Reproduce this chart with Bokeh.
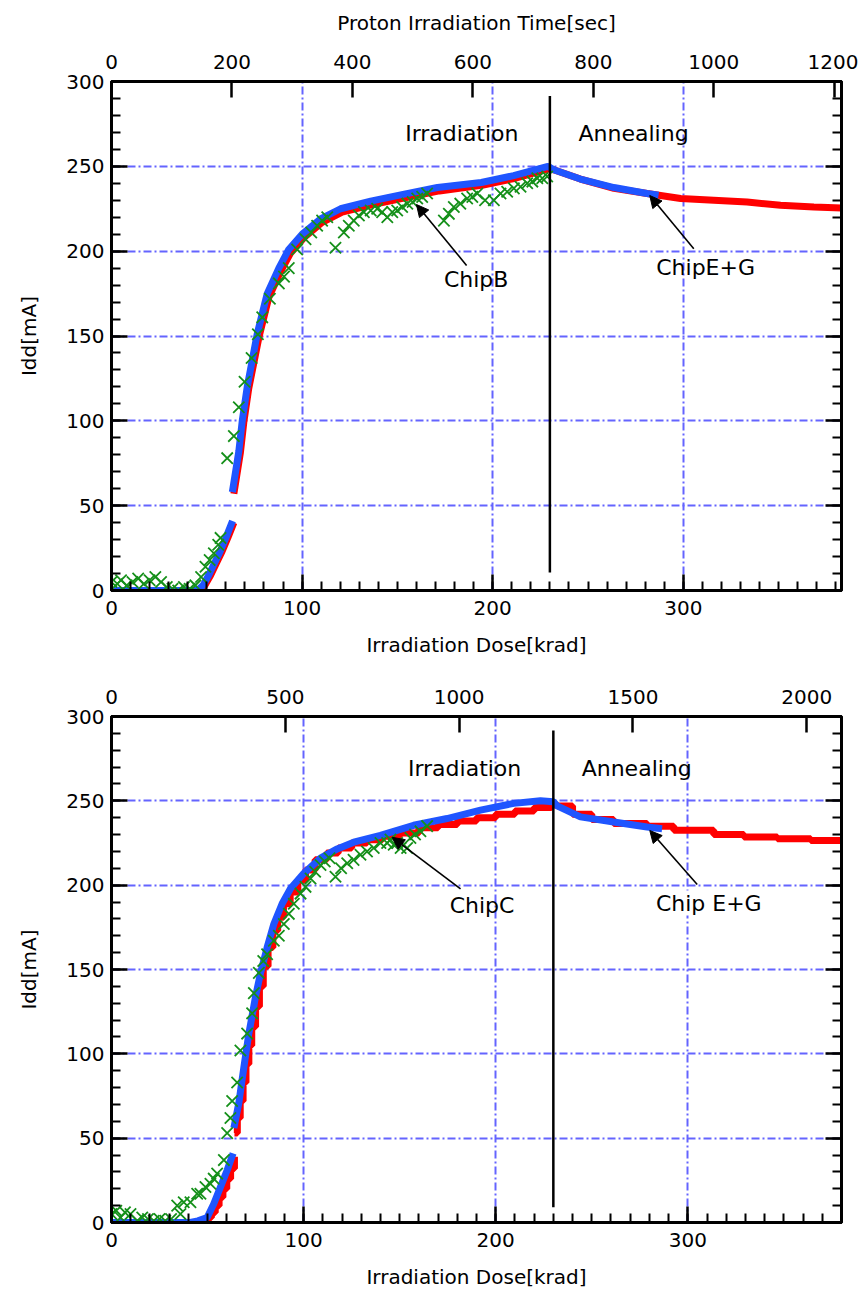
import math
from bokeh.plotting import figure
from bokeh.models import (LinearAxis, Range1d, FixedTicker, Arrow, NormalHead,
                          Label, Grid, CustomLabelingPolicy)
from bokeh.layouts import column
from bokeh.embed import file_html
from bokeh.resources import INLINE

nan = float("nan")

# ---------------- upper panel: ChipB (green) vs ChipE+G (red / blue) ----------------
top_blue_dose = [0, 45, 48, 51, 54, 57, 60, 63.5, nan,
                 63.4, 66.8, 68.6, 71.2, 76.4, 81.7, 87.8, 93.0, 100.0, 109.7,
                 120.2, 136, 153, 171, 194, 211, 229, 232, 246, 263.6, 281, 287]
top_blue_idd = [0, 0, 3, 9, 16, 23, 31, 41, nan,
                58, 82, 100, 120, 151, 175, 190, 201, 210, 219,
                225, 229.5, 233.5, 237.5, 240.5, 244.5, 250, 248, 242.5, 237.5, 234, 233]

top_red_dose = [0, 46, 49, 52, 55, 58, 61, 64.2, nan,
                64.2, 67.6, 69.4, 72.0, 77.3, 82.6, 88.7, 94, 101, 110.5,
                121, 137, 154, 172, 195, 212, 229.5, 232, 246, 263.6,
                281, 298.6, 316, 333.5, 351, 368.5, 383]
top_red_idd = [0, 0, 3, 9, 16, 23, 31, 40, nan,
               57, 81, 99, 119, 149, 173, 188, 199, 208, 217,
               223, 227.5, 231.5, 235.5, 239, 243, 248.5, 248, 242.5, 237,
               234, 231, 230, 229, 227, 226, 225.5]

top_green_dose = [0, 3, 5, 8, 11, 14, 17, 20, 23, 26, 29, 32, 35, 38, 41, 44, 47,
                  49.3, 51.5, 53.7, 56, 57.2, 60.7, 64.2, 66.8, 69.8, 73.5, 76.8,
                  79.1, 83.1, 87.8, 90.5, 93, 97.4, 101.8, 104.8, 107.9, 110.5,
                  113.2, 117.5, 121.9, 124.5, 127.1, 129.8, 132.4, 136, 139.4, 142,
                  144.7, 147.3, 149.9, 152.5, 155.2, 158, 160.4, 163, 165.6, 174.4,
                  177, 179.6, 183, 186.6, 189.3, 191.9, 196, 200.6, 204.1, 207.6,
                  211.1, 214.6, 218.1, 220.8, 223.4, 226, 228.6]
top_green_idd = [5, 4, 6, 3, 5, 7, 4, 6, 8, 5, 2, 1, 0, 2, 1, 3, 8,
                 14, 18, 22, 27, 31, 78, 91, 108, 123, 137, 151,
                 161, 172, 181, 185, 190, 201, 207, 211, 215, 218,
                 220, 202, 211, 215, 218, 221, 223, 224, 225, 223,
                 220, 223, 224, 226, 228, 229, 231, 232, 234, 218,
                 222, 226, 228, 231, 232, 234, 230, 230, 234, 235,
                 237, 238, 240, 241, 243, 243, 244]

# ---------------- lower panel: ChipC (green) vs Chip E+G (red / blue) ----------------
bot_blue_dose = [0, 41, 45, 49.8, 53.2, 56.7, 60.2, 63.3, nan,
                 63.7, 66.3, 68.9, 71.5, 75, 77.6, 81, 84.5, 88.8, 93.2,
                 100.1, 108.8, 117.5, 126.1, 140, 157.3, 174.7, 192.1, 209.4, 223.3,
                 230, 232, 244.1, 261.4, 278.8, 286.6]
bot_blue_idd = [0, 0, 1, 3, 11, 21, 31, 41, nan,
                56, 71, 92, 112, 134, 148, 163, 177, 189, 198,
                207, 216, 221.5, 225.5, 229.5, 235.5, 239.5, 244.5, 248.5, 250,
                249.5, 247, 240.5, 237.5, 234.5, 233.5]

bot_red_dose = [0, 44, 47, 50, 52, 54, 56, 58, 60, 62, 64, nan,
                64, 65.5, 67, 68.5, 70, 71.5, 73, 75, 77, 79,
                81.5, 84, 86.5, 89.5, 93, 97, 101, 106, 112, 118,
                125, 133, 141, 150, 160, 170, 180, 190, 200, 210,
                220, 229, 232, 240, 250, 261.4, 278.8, 292.7, 313.5, 329.2,
                346.6, 364, 380]
bot_red_idd = [0, 0, 1, 3, 6, 10, 15, 20, 26, 32, 39, nan,
               53, 62, 72, 83, 94, 105, 116, 128, 140, 152,
               163, 173, 181, 189, 196, 203, 209, 215, 219, 222,
               225, 227, 229, 231, 234, 236, 238, 240, 242, 244,
               246, 247.5, 247, 242, 239, 236.5, 235, 232.5, 230, 228.5,
               227.5, 226.5, 226.5]

bot_green_dose = [0, 2.5, 4.7, 7, 9.9, 13.4, 16, 19, 22, 25, 28, 31, 34.2, 35.9, 37.6,
                  41.1, 44.6, 46.3, 48.9, 51.5, 53.2, 55, 58.5, 60.2, 61.9, 62.8, 65.4,
                  67.1, 70.6, 73.2, 74.1, 76.7, 79, 81, 84.5, 87.1, 89.7, 92.3, 94.9,
                  98.4, 101, 103.6, 106, 108.8, 111, 113.5, 116.6, 119.5, 122.7, 126,
                  129.6, 133, 136.5, 140, 143.5, 145.2, 146.9, 148.7, 150.5, 153.9,
                  155.6, 158, 160.8, 164.3]
bot_green_idd = [5, 7, 3, 6, 5, 1, 3, 2, 1, 2, 1, 2, 10, 5, 12,
                 12, 17, 17, 21, 23, 26, 29, 37, 53, 62, 72, 83,
                 102, 112, 124, 136, 148, 155, 159, 167, 170, 177, 183, 189,
                 195, 199, 204, 208, 212, 214, 216, 205, 210, 213, 215,
                 218, 220, 222, 225, 225, 227, 224, 225, 222, 222,
                 228, 230, 232, 235]

# ---------------- axes ----------------
dose_ticks = [0, 100, 200, 300]
dose_minor = list(range(0, 390, 10))
idd_ticks = [0, 50, 100, 150, 200, 250, 300]
idd_minor = list(range(0, 301, 10))
time_ticks_top = [0, 200, 400, 600, 800, 1000, 1200]
time_ticks_bot = [0, 500, 1000, 1500, 2000]

FONT = "DejaVu Sans"
RED = "#ff0000"
BLUE = "#1f55ff"
GREEN = "#15901a"
GRIDC = "#6464ff"


def split_nan(xs, ys):
    parts, cx, cy = [], [], []
    for x, y in zip(xs, ys):
        if math.isnan(x):
            parts.append((cx, cy))
            cx, cy = [], []
        else:
            cx.append(x)
            cy.append(y)
    parts.append((cx, cy))
    return parts


def style_axis(ax, minor=True):
    ax.axis_line_width = 3
    ax.axis_line_color = "black"
    ax.major_tick_in = 16
    ax.major_tick_out = 0
    ax.major_tick_line_width = 2.5
    ax.major_tick_line_color = "black"
    if minor:
        ax.minor_tick_in = 9
        ax.minor_tick_out = 0
        ax.minor_tick_line_width = 2
        ax.minor_tick_line_color = "black"
    else:
        ax.minor_tick_line_color = None
    ax.major_label_text_font = FONT
    ax.major_label_text_font_size = "20px"
    ax.major_label_text_color = "black"
    ax.axis_label_text_font = FONT
    ax.axis_label_text_font_size = "20px"
    ax.axis_label_text_font_style = "normal"
    ax.axis_label_text_color = "black"


def panel(frame_h, top_border, bottom_border, xmax, tmax, time_ticks, time_label,
          red_x, red_y, red_step, blue_x, blue_y, green_x, green_y,
          labels, arrows, vline):
    p = figure(frame_width=730, frame_height=frame_h,
               x_range=Range1d(0, xmax), y_range=Range1d(0, 300),
               x_axis_type=None, y_axis_type=None, output_backend="svg",
               toolbar_location=None, min_border_left=111, min_border_right=17,
               min_border_top=top_border, min_border_bottom=bottom_border)
    p.outline_line_color = "black"
    p.outline_line_width = 3
    p.background_fill_color = "white"
    p.border_fill_color = "white"
    p.extra_x_ranges = {"time": Range1d(0, tmax)}

    xt = FixedTicker(ticks=dose_ticks, minor_ticks=dose_minor)
    yt = FixedTicker(ticks=idd_ticks, minor_ticks=idd_minor)

    bottom = LinearAxis(ticker=xt, axis_label="Irradiation Dose[krad]")
    style_axis(bottom)
    bottom.major_label_standoff = 10
    bottom.axis_label_standoff = 15
    p.add_layout(bottom, "below")

    left = LinearAxis(ticker=yt, axis_label="Idd[mA]")
    style_axis(left)
    left.major_label_standoff = 7
    left.axis_label_standoff = 22
    p.add_layout(left, "left")

    right = LinearAxis(ticker=yt,
                       major_label_overrides={t: "" for t in idd_ticks},
                       major_label_policy=CustomLabelingPolicy(code="return []"))
    style_axis(right)
    right.major_label_standoff = 0
    right.major_label_text_font_size = "1px"
    p.add_layout(right, "right")

    top = LinearAxis(x_range_name="time", ticker=FixedTicker(ticks=time_ticks, minor_ticks=[]))
    if time_label:
        top.axis_label = time_label
    style_axis(top, minor=False)
    top.major_label_standoff = 13
    top.axis_label_standoff = 17
    p.add_layout(top, "above")

    p.add_layout(Grid(dimension=0, ticker=FixedTicker(ticks=[100, 200, 300]),
                      grid_line_color=GRIDC, grid_line_width=2, grid_line_dash="8 3 2 3"))
    p.add_layout(Grid(dimension=1, ticker=FixedTicker(ticks=[50, 100, 150, 200, 250]),
                      grid_line_color=GRIDC, grid_line_width=2, grid_line_dash="8 3 2 3"))

    for sx, sy in split_nan(red_x, red_y):
        if red_step:
            p.step(sx, sy, mode="after", line_color=RED, line_width=7)
        else:
            p.line(sx, sy, line_color=RED, line_width=7)
    for sx, sy in split_nan(blue_x, blue_y):
        p.line(sx, sy, line_color=BLUE, line_width=7)
    p.scatter(green_x, green_y, marker="x", size=16, line_color=GREEN, line_width=1.8)

    p.segment(x0=[vline[0]], y0=[vline[1]], x1=[vline[0]], y1=[vline[2]],
              line_color="black", line_width=2.5)

    for (xs, ys, xe, ye) in arrows:
        p.add_layout(Arrow(end=NormalHead(size=12, fill_color="black", line_color="black",
                                          line_width=1),
                           x_start=xs, y_start=ys, x_end=xe, y_end=ye,
                           line_color="black", line_width=1.6))
    for (tx, ty, txt, bg) in labels:
        lab = Label(x=tx, y=ty, text=txt, text_font=FONT, text_font_size="22px",
                    text_align="center", text_baseline="middle", text_color="black")
        if bg:
            lab.background_fill_color = "white"
        p.add_layout(lab)
    return p


p1 = panel(509, 81, 70, 383, 1212, time_ticks_top, "Proton Irradiation Time[sec]",
           top_red_dose, top_red_idd, False, top_blue_dose, top_blue_idd,
           top_green_dose, top_green_idd,
           labels=[(183.8, 269.4, "Irradiation", False), (273.9, 269.4, "Annealing", False),
                   (191.3, 183.4, "ChipB", False), (311.7, 190.1, "ChipE+G", False)],
           arrows=[(186.3, 191.6, 160.0, 227.5), (305.5, 201.4, 282.4, 232.8)],
           vline=(230, 10.6, 291.5))

p2 = panel(506, 56, 70, 380, 2100, time_ticks_bot, None,
           bot_red_dose, bot_red_idd, True, bot_blue_dose, bot_blue_idd,
           bot_green_dose, bot_green_idd,
           labels=[(183.8, 269.0, "Irradiation", False), (273.4, 269.0, "Annealing", False),
                   (192.9, 188.0, "ChipC", False), (310.9, 189.4, "Chip E+G", True)],
           arrows=[(181.7, 197.8, 146.1, 228.4), (304.9, 200.4, 280.2, 232.4)],
           vline=(230, 9.1, 291.7))

layout = column(p1, p2, spacing=0)
open("out.html", "w").write(file_html(layout, INLINE))
